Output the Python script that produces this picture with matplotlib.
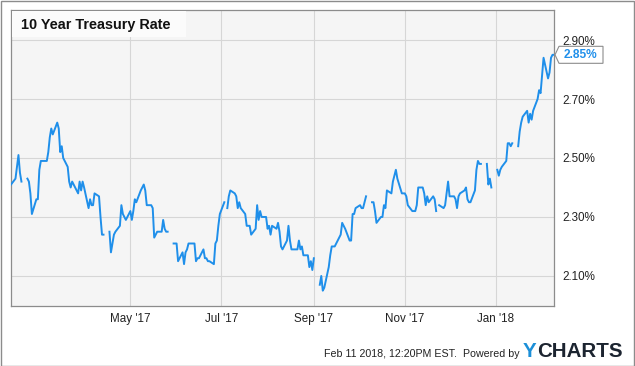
import numpy as np, pandas as pd
import matplotlib; matplotlib.use('Agg')
import matplotlib.pyplot as plt
from matplotlib.patches import Rectangle, Polygon
from matplotlib.transforms import IdentityTransform

plt.rcParams['font.family'] = ['Liberation Sans', 'DejaVu Sans']

# --- 10y treasury, daily (weekdays), None = market holiday ---
feb17 = [2.41, 2.43, 2.47, 2.51, 2.45, 2.42, None, 2.43, 2.42, 2.38, 2.31, 2.36, 2.36]
mar17 = [2.46, 2.49, 2.49, 2.49, 2.52, 2.57, 2.60, 2.58, 2.62, 2.60, 2.52, 2.54, 2.50,
         2.47, 2.42, 2.40, 2.42, 2.41, 2.38, 2.42, 2.39, 2.42, 2.40]
apr17 = [2.33, 2.36, 2.34, 2.34, 2.38, 2.37, 2.30, 2.24, 2.24, None,
         2.25, 2.18, 2.21, 2.24, 2.25, 2.27, 2.34, 2.31, 2.30, 2.29]
may17 = [2.32, 2.29, 2.32, 2.36, 2.35, 2.39, 2.40, 2.41, 2.39, 2.34, 2.34, 2.33, 2.23,
         2.24, 2.25, 2.25, 2.29, 2.26, 2.25, 2.25, None, 2.21, 2.21]
jun17 = [2.21, 2.15, 2.18, 2.14, 2.18, 2.19, 2.21, 2.21, 2.21, 2.15, 2.16, 2.16,
         2.19, 2.16, 2.16, 2.15, 2.15, 2.14, 2.21, 2.22, 2.27, 2.31]
jul17 = [2.35, None, 2.33, 2.37, 2.39, 2.38, 2.37, 2.33, 2.35, 2.33, 2.31, 2.27,
         2.27, 2.27, 2.24, 2.26, 2.34, 2.29, 2.32, 2.30, 2.30]
aug17 = [2.26, 2.27, 2.24, 2.27, 2.26, 2.28, 2.25, 2.20, 2.19, 2.22, 2.27, 2.22,
         2.19, 2.19, 2.19, 2.22, 2.19, 2.20, 2.17, 2.17, 2.13, 2.15, 2.12]
sep17 = [2.16, None, 2.07, 2.10, 2.05, 2.06, 2.13, 2.17, 2.20, 2.20, 2.20,
         2.23, 2.24, 2.28, 2.27, 2.26, 2.22, 2.22, 2.31, 2.31, 2.33]
oct17 = [2.34, 2.33, 2.33, 2.35, 2.37, None, 2.35, 2.35, 2.32, 2.28, 2.30,
         2.30, 2.34, 2.33, 2.39, 2.38, 2.42, 2.44, 2.46, 2.43, 2.38, 2.38]
nov17 = [2.38, 2.37, 2.34, 2.32, 2.32, 2.32, 2.34, 2.40, 2.40, 2.38, 2.34,
         2.37, 2.35, 2.37, 2.36, 2.32, None, 2.34, 2.33, 2.34, 2.38, 2.42]
dec17 = [2.37, 2.37, 2.36, 2.33, 2.37, 2.38, 2.39, 2.40, 2.36, 2.35, 2.35,
         2.39, 2.46, 2.49, 2.48, 2.48, None, 2.48, 2.41, 2.43, 2.40]
jan18 = [None, 2.46, 2.44, 2.46, 2.47, 2.49, 2.55, 2.55, 2.54, 2.55, None, 2.54,
         2.59, 2.62, 2.64, 2.66, 2.62, 2.65, 2.63, 2.66, 2.70, 2.73, 2.72]
feb18 = [2.78, 2.84, 2.77, 2.79, 2.84, 2.85, 2.85]

dates = pd.bdate_range('2017-02-10', '2018-02-09')
rate = np.array(feb17 + mar17 + apr17 + may17 + jun17 + jul17 + aug17 + sep17 +
                oct17 + nov17 + dec17 + jan18 + feb18, dtype=float)
assert len(rate) == len(dates), (len(rate), len(dates))

yticks = [2.10, 2.30, 2.50, 2.70, 2.90]
xticks = pd.to_datetime(['2017-05-01', '2017-07-01', '2017-09-01', '2017-11-01', '2018-01-01'])
xlabels = ["May '17", "Jul '17", "Sep '17", "Nov '17", "Jan '18"]
last_val = 2.85

W, H = 635, 366
fx = lambda px: px / W
fy = lambda py: 1 - py / H
BLUE = '#1f8fea'

fig = plt.figure(figsize=(W / 100, H / 100), dpi=100)
fig.patch.set_facecolor('white')
ax = fig.add_axes([fx(11), fy(306), fx(554) - fx(11), fy(10) - fy(306)])
ax.set_facecolor('#f5f5f5')
ax.plot(dates, rate, color=BLUE, lw=1.4, zorder=3)
ax.set_xlim(pd.Timestamp('2017-02-10'), pd.Timestamp('2018-02-09'))
ax.set_ylim(1.998, 3.002)
ax.set_yticks(yticks)
ax.set_yticklabels([f'{v:.2f}%' for v in yticks])
ax.yaxis.tick_right()
ax.set_xticks(xticks)
ax.set_xticklabels(xlabels)
ax.tick_params(length=0, labelsize=8.4, labelcolor='#222222')
ax.tick_params(axis='y', pad=6)
ax.tick_params(axis='x', pad=5)
ax.grid(color='#d6d6d6', lw=0.8, zorder=0)
for s in ax.spines.values():
    s.set_color('#8c8c8c'); s.set_linewidth(0.9)

# title box
fig.patches.append(Rectangle((fx(12), fy(37)), fx(186) - fx(12), fy(11) - fy(37),
                             transform=fig.transFigure, facecolor='#fbfbfb', edgecolor='none', zorder=2))
fig.text(fx(21), fy(29.5), '10 Year Treasury Rate', fontsize=10.4, fontweight='bold',
         color='#111111', va='baseline', ha='left', zorder=3)

# last value tag
fig.canvas.draw()
yd = ax.transData.transform((0, last_val))[1]
xd = ax.transAxes.transform((1, 0))[0]
tag = Polygon([(xd + 1, yd), (xd + 5, yd + 8.5), (xd + 49, yd + 8.5), (xd + 49, yd - 8.5), (xd + 5, yd - 8.5)],
              closed=True, transform=IdentityTransform(), facecolor='white', edgecolor='#8c8c8c', lw=0.8)
fig.patches.append(tag)
fig.text((xd + 27) / W, yd / H, f'{last_val:.2f}%', fontsize=8.6, fontweight='bold', color=BLUE,
         ha='center', va='center')

# footer
fig.text(fx(520), fy(357), 'Feb 11 2018, 12:20PM EST.  Powered by', fontsize=7.7, color='#222222',
         ha='right', va='baseline')
ty = fig.text(fx(523), fy(357), 'Y', fontsize=14.8, fontweight='bold', color='#1b8fd8',
              ha='left', va='baseline')
r = fig.canvas.get_renderer()
yx1 = ty.get_window_extent(r).x1
fig.text((yx1 + 1) / W, fy(357), 'CHARTS', fontsize=14.8, fontweight='bold', color='#1c2430',
         ha='left', va='baseline')

# outer frame
fig.patches.append(Rectangle((0.5 / W, 0.5 / H), 1 - 1.5 / W, 1 - 1.5 / H, transform=fig.transFigure,
                             facecolor='none', edgecolor='#8c8c8c', lw=1))

fig.savefig('out.png', dpi=100)
